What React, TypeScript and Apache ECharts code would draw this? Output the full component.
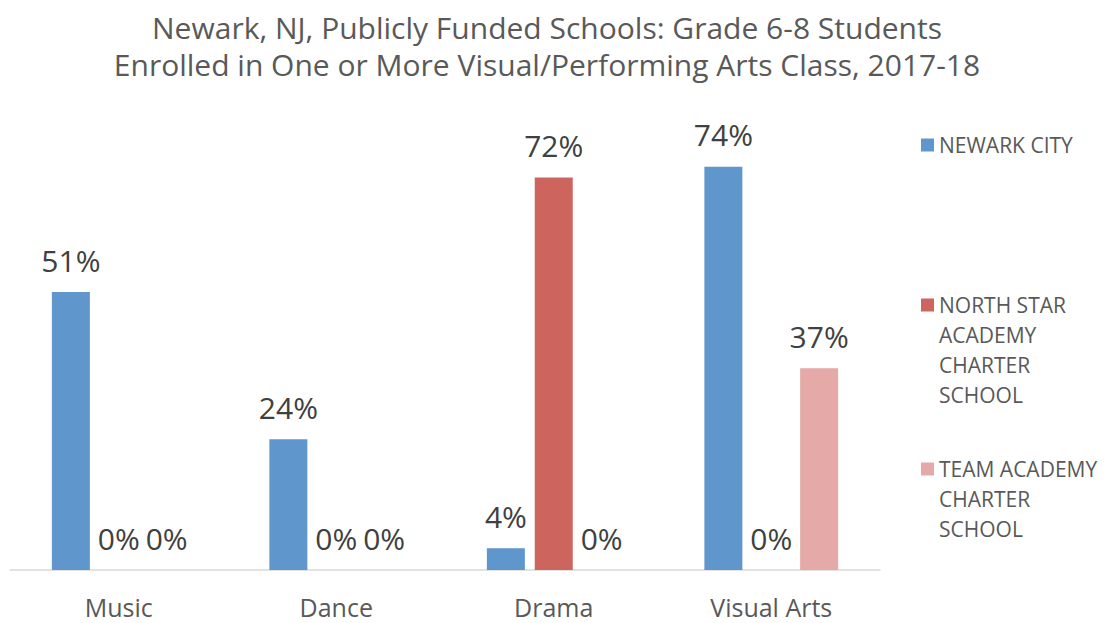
import React, { useEffect, useRef } from "react";
import * as echarts from "echarts";

const categories = ["Music", "Dance", "Drama", "Visual Arts"];
const newarkCity = [51, 24, 4, 74];
const northStar = [0, 0, 72, 0];
const teamAcademy = [0, 0, 0, 37];
const seriesNames = ["NEWARK CITY", "NORTH STAR ACADEMY CHARTER SCHOOL", "TEAM ACADEMY CHARTER SCHOOL"];
const legendLines: Record<string, string> = {
  "NEWARK CITY": "NEWARK CITY",
  "NORTH STAR ACADEMY CHARTER SCHOOL": "NORTH STAR\nACADEMY\nCHARTER\nSCHOOL",
  "TEAM ACADEMY CHARTER SCHOOL": "TEAM ACADEMY\nCHARTER\nSCHOOL",
};
const titleText = "Newark, NJ, Publicly Funded Schools: Grade 6-8 Students\nEnrolled in One or More Visual/Performing Arts Class, 2017-18";

const FONT = "'Open Sans', Lato, sans-serif";
const colors = ["#5F96CB", "#CD655E", "#E5A9A7"];
const LINE_H = 30;

// square icon aligned with the first text line of a multi-line legend entry
const iconFor = (lines: number) => {
  const h = lines * LINE_H;
  const y0 = LINE_H / 2 - 6.5;
  return `path://M0,${y0}L13,${y0}L13,${y0 + 13}L0,${y0 + 13}Z M0,0L0.01,0L0.01,0.01Z M0,${h}L0.01,${h}L0.01,${h - 0.01}Z`;
};

export default function App() {
  const ref = useRef<HTMLDivElement>(null);
  useEffect(() => {
    if (!ref.current) return;
    const chart = echarts.init(ref.current, undefined, { renderer: "svg" });
    const legendFor = (name: string, top: number, lines: number) => ({
      orient: "vertical",
      left: 921,
      top,
      padding: 0,
      itemWidth: 13,
      itemHeight: lines === 1 ? 13 : lines * LINE_H,
      icon: lines === 1 ? "rect" : iconFor(lines),
      selectedMode: false,
      formatter: (n: string) => legendLines[n],
      textStyle: {
        color: "#595959",
        fontFamily: FONT,
        fontSize: 21,
        lineHeight: LINE_H,
      },
      data: [name],
    });
    const label = {
      show: true,
      position: "top",
      distance: 17,
      formatter: "{c}%",
      color: "#404040",
      fontFamily: FONT,
      fontSize: 30,
    };
    const mk = (i: number, data: number[]) => ({
      name: seriesNames[i],
      type: "bar",
      data,
      barWidth: 38,
      barGap: "26%",
      itemStyle: { color: colors[i] },
      label,
    });
    chart.setOption({
      animation: false,
      title: {
        text: titleText,
        left: 542,
        top: 4,
        textAlign: "center",
        textStyle: {
          color: "#595959",
          fontFamily: FONT,
          fontWeight: "normal",
          fontSize: 30,
          lineHeight: 37,
        },
      },
      legend: [
        legendFor(seriesNames[0], 130, 1),
        legendFor(seriesNames[1], 290, 4),
        legendFor(seriesNames[2], 454, 3),
      ],
      grid: { left: 10, right: 230, top: 134, bottom: 53, containLabel: false },
      xAxis: {
        type: "category",
        data: categories,
        axisLine: { show: true, lineStyle: { color: "#D9D9D9", width: 1.5 } },
        axisTick: { show: false },
        axisLabel: {
          color: "#595959",
          fontFamily: FONT,
          fontSize: 25,
          margin: 24,
        },
      },
      yAxis: {
        type: "value",
        min: 0,
        max: 80,
        show: false,
        splitLine: { show: false },
      },
      series: [mk(0, newarkCity), mk(1, northStar), mk(2, teamAcademy)],
    });
    return () => chart.dispose();
  }, []);
  return <div ref={ref} style={{ width: 1110, height: 623, position: "absolute", left: 0, top: 0, background: "#fff" }} />;
}
